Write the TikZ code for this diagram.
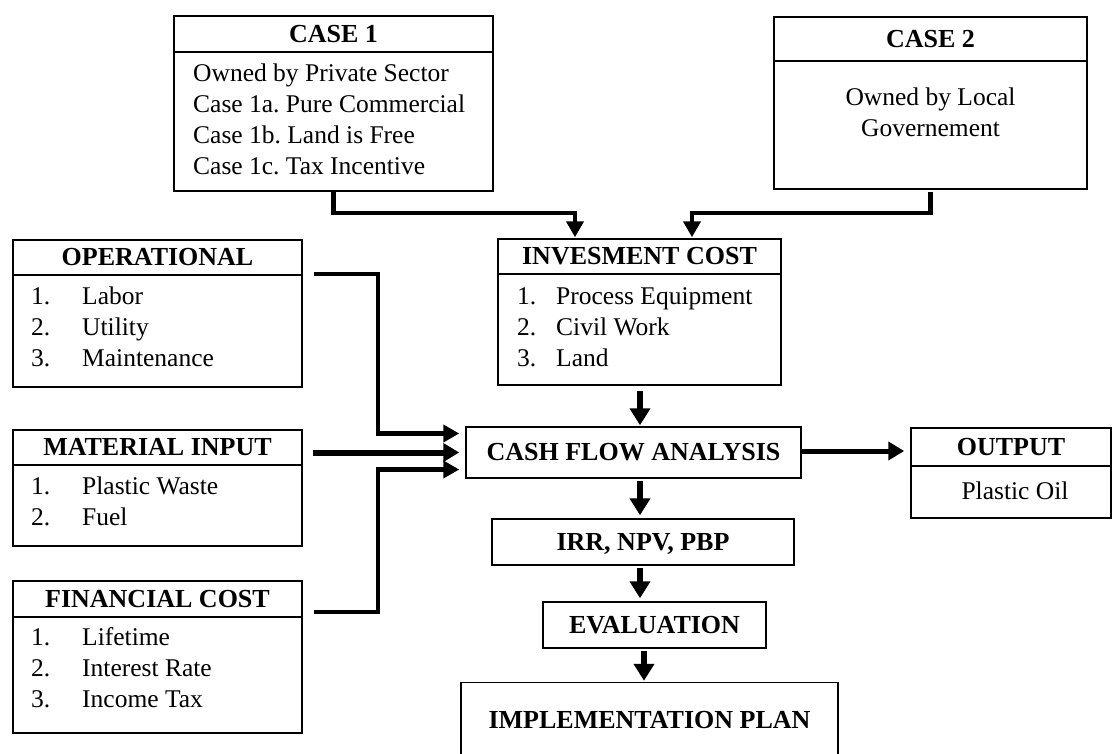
\documentclass[tikz,border=0pt]{standalone}
\usepackage{fontspec}
\setmainfont{Liberation Serif}
\usetikzlibrary{arrows.meta,calc}
\frenchspacing
\begin{document}
\begin{tikzpicture}[x=1pt,y=-1pt,
  box/.style={draw, line width=1.5pt, rectangle, inner sep=0pt},
  hdr/.style={box, font=\fontsize{26}{31}\selectfont\bfseries, text height=16.5pt, text depth=0pt},
  txt/.style={inner sep=0pt, font=\fontsize{25.5}{31}\selectfont},
  conn/.style={line width=4.5pt, -{Triangle[length=16pt,width=17pt]}},
  connthick/.style={line width=6pt, -{Triangle[length=16pt,width=18pt]}},
  connv/.style={line width=6pt, -{Triangle[length=17pt,width=20pt]}}
]
\useasboundingbox (0,0) rectangle (1112,753);
\clip (0,0) rectangle (1112,753);

% CASE 1
\node[hdr, minimum width=319pt, minimum height=36pt] (c1h) at (333.5,34) {CASE 1};
\node[box, minimum width=319pt, minimum height=139pt] (c1b) at (333.5,121.5) {};
\node[txt, anchor=base west] (c1t) at (193,81) {\begin{tabular}[t]{@{}l@{}}Owned by Private Sector\\Case 1a. Pure Commercial\\Case 1b. Land is Free\\Case 1c. Tax Incentive\end{tabular}};

% CASE 2
\node[hdr, minimum width=313pt, minimum height=44pt] (c2h) at (930.5,39) {CASE 2};
\node[box, minimum width=313pt, minimum height=128pt] (c2b) at (930.5,125) {};
\node[txt, anchor=base] (c2t) at (930.5,105) {\begin{tabular}[t]{@{}c@{}}Owned by Local\\Governement\end{tabular}};

% INVESMENT COST
\node[hdr, minimum width=283pt, minimum height=35pt] (invh) at (639.5,256.5) {INVESMENT COST};
\node[box, minimum width=283pt, minimum height=111pt] (invb) at (639.5,329.5) {};
\node[txt, anchor=base west] (invt) at (517,304) {\begin{tabular}[t]{@{}p{39pt}@{}l@{}}1.&Process Equipment\\2.&Civil Work\\3.&Land\end{tabular}};

% OPERATIONAL
\node[hdr, minimum width=289pt, minimum height=35pt] (oph) at (157.5,257.5) {OPERATIONAL};
\node[box, minimum width=289pt, minimum height=112pt] (opb) at (157.5,331) {};
\node[txt, anchor=base west] (opt) at (31,304) {\begin{tabular}[t]{@{}p{51pt}@{}l@{}}1.&Labor\\2.&Utility\\3.&Maintenance\end{tabular}};

% MATERIAL INPUT
\node[hdr, minimum width=289pt, minimum height=35pt] (math) at (157.5,447.5) {MATERIAL INPUT};
\node[box, minimum width=289pt, minimum height=81pt] (matb) at (157.5,505.5) {};
\node[txt, anchor=base west] (matt) at (31,494) {\begin{tabular}[t]{@{}p{51pt}@{}l@{}}1.&Plastic Waste\\2.&Fuel\end{tabular}};

% FINANCIAL COST
\node[hdr, minimum width=289pt, minimum height=36pt] (finh) at (157.5,599) {FINANCIAL COST};
\node[box, minimum width=289pt, minimum height=116pt] (finb) at (157.5,675) {};
\node[txt, anchor=base west] (fint) at (31,645) {\begin{tabular}[t]{@{}p{51pt}@{}l@{}}1.&Lifetime\\2.&Interest Rate\\3.&Income Tax\end{tabular}};

% CASH FLOW
\node[hdr, minimum width=335pt, minimum height=51pt] (cash) at (633.5,452.5) {CASH FLOW ANALYSIS};

% OUTPUT
\node[hdr, minimum width=200pt, minimum height=38pt] (outh) at (1011,447) {OUTPUT};
\node[box, minimum width=200pt, minimum height=52pt] (outb) at (1011,492) {};
\node[txt, anchor=base] (outt) at (1015,499) {Plastic Oil};

% IRR
\node[hdr, minimum width=302pt, minimum height=46pt] (irr) at (643,542) {IRR, NPV, PBP};
% EVALUATION
\node[hdr, minimum width=223pt, minimum height=46pt] (eval) at (654.5,625) {EVALUATION};
% IMPLEMENTATION
\node[hdr, minimum width=377pt, minimum height=75pt] (impl) at (649.5,720) {IMPLEMENTATION PLAN};

% bus coordinates
\coordinate (bus) at (378,0);
\coordinate (spine) at (640,0);

% connectors
\draw[conn, shorten >=1pt] (c1b.south) -- ++(0,21) -| ([xshift=-64.5pt]invh.north);
\draw[conn, shorten >=1pt] ([yshift=-2pt]c2b.south) -- ++(0,21) -| ([xshift=52.5pt]invh.north);

\draw[conn, shorten >=6pt] ([xshift=11pt,yshift=2pt]oph.south east) -| ([yshift=19pt]bus |- cash.west) -- ([yshift=19pt]cash.west);
\draw[connthick, shorten >=6pt] ([xshift=10pt]math.east |- cash.west) -- (cash.west);
\draw[conn, shorten >=6pt] ([xshift=11pt,yshift=6pt]finh.south east) -| ([yshift=-17pt]bus |- cash.west) -- ([yshift=-17pt]cash.west);

\draw[connthick, line width=5pt, shorten >=6pt] ([yshift=1.5pt]cash.east) -- ([yshift=1.5pt]cash.east -| outh.west);

\draw[connv, shorten >=1pt] ([yshift=-5pt]spine |- invb.south) -- (spine |- cash.north);
\draw[connv, shorten >=3pt] ([yshift=-2pt]spine |- cash.south) -- (spine |- irr.north);
\draw[connv, shorten >=3pt] ([yshift=-2pt]spine |- irr.south) -- (spine |- eval.north);
\draw[connv, shorten >=1pt] ([xshift=4pt,yshift=-2pt]spine |- eval.south) -- ([xshift=4pt]spine |- impl.north);
\end{tikzpicture}
\end{document}
